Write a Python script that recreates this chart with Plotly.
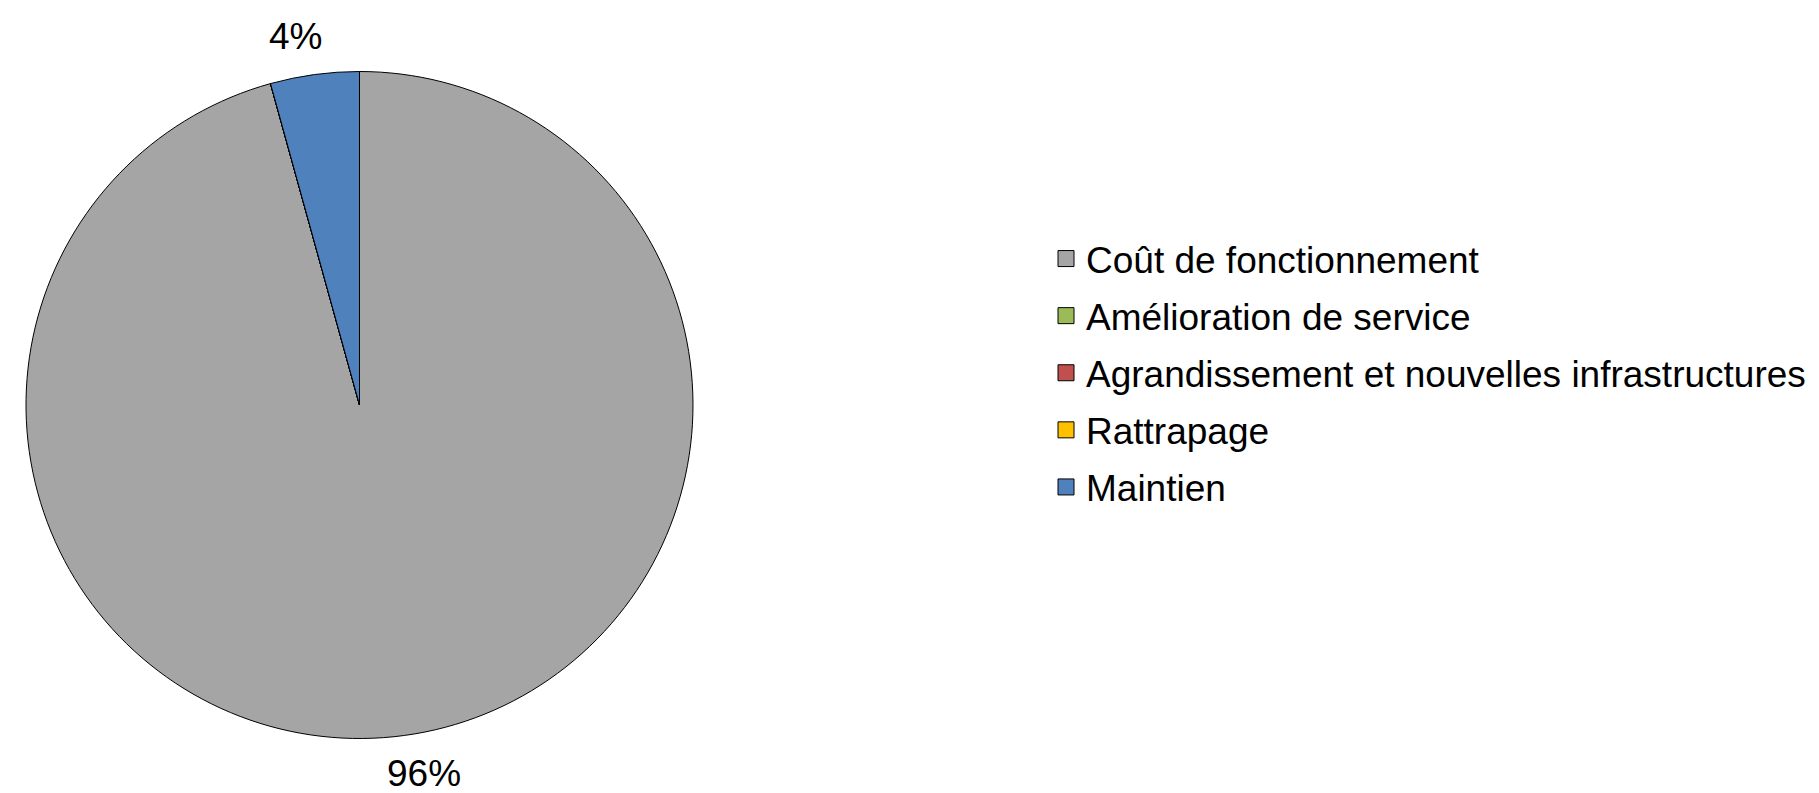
import math
import plotly.graph_objects as go

categories = ["Coût de fonctionnement", "Amélioration de service",
              "Agrandissement et nouvelles infrastructures", "Rattrapage", "Maintien"]
values = [95.7, 0, 0, 0, 4.3]
colors = ["#A5A5A5", "#9BBB59", "#C0504D", "#FFC000", "#4F81BD"]

W, H = 1819, 793
OFF = 8  # page body margin offset
cx, cy, r = 351.5, 397, 333.5
FONT = "Liberation Sans, Arial"

fig = go.Figure()
fig.add_trace(go.Pie(
    labels=categories,
    values=values,
    sort=False,
    direction="clockwise",
    rotation=0,
    marker=dict(colors=colors, line=dict(color="#000000", width=1)),
    textinfo="none",
    domain=dict(x=[(cx - r) / W, (cx + r) / W], y=[(H - cy - r) / H, (H - cy + r) / H]),
    showlegend=False,
    hoverinfo="label+percent",
))

# legend entries (one group per category so gaps can be set)
for cat, col in zip(categories, colors):
    fig.add_trace(go.Scatter(
        x=[None], y=[None], mode="markers", name=cat, legendgroup=cat,
        marker=dict(symbol="square", size=19, color=col, line=dict(color="#000000", width=1)),
        showlegend=True, hoverinfo="skip",
    ))

# percentage labels outside slices
total = sum(values)
acc = 0.0
for v in values:
    if v > 0:
        mid = (acc + v / 2) / total * 2 * math.pi
        d = 1.115 * r
        s = math.sin(mid)
        lx = cx + d * s + 14 * (1 if s > 0 else -1)
        ly = cy - d * math.cos(mid)
        fig.add_annotation(
            x=lx / W, y=(H - ly) / H, xref="paper", yref="paper",
            text=f"{round(v)}%", showarrow=False,
            xanchor="center", yanchor="middle",
            font=dict(size=37, color="#000000", family=FONT),
        )
    acc += v

fig.update_layout(
    width=W, height=H,
    margin=dict(l=0, r=0, t=0, b=0),
    paper_bgcolor="white",
    plot_bgcolor="white",
    font=dict(family=FONT, size=37, color="#000000"),
    xaxis=dict(visible=False),
    yaxis=dict(visible=False),
    legend=dict(
        x=1038 / W, xanchor="left",
        y=(H - 365) / H, yanchor="middle",
        font=dict(size=37, color="#000000", family=FONT),
        bgcolor="rgba(0,0,0,0)",
        tracegroupgap=6,
        traceorder="grouped",
        itemclick=False, itemdoubleclick=False,
    ),
)

fig.write_html("out.html")
